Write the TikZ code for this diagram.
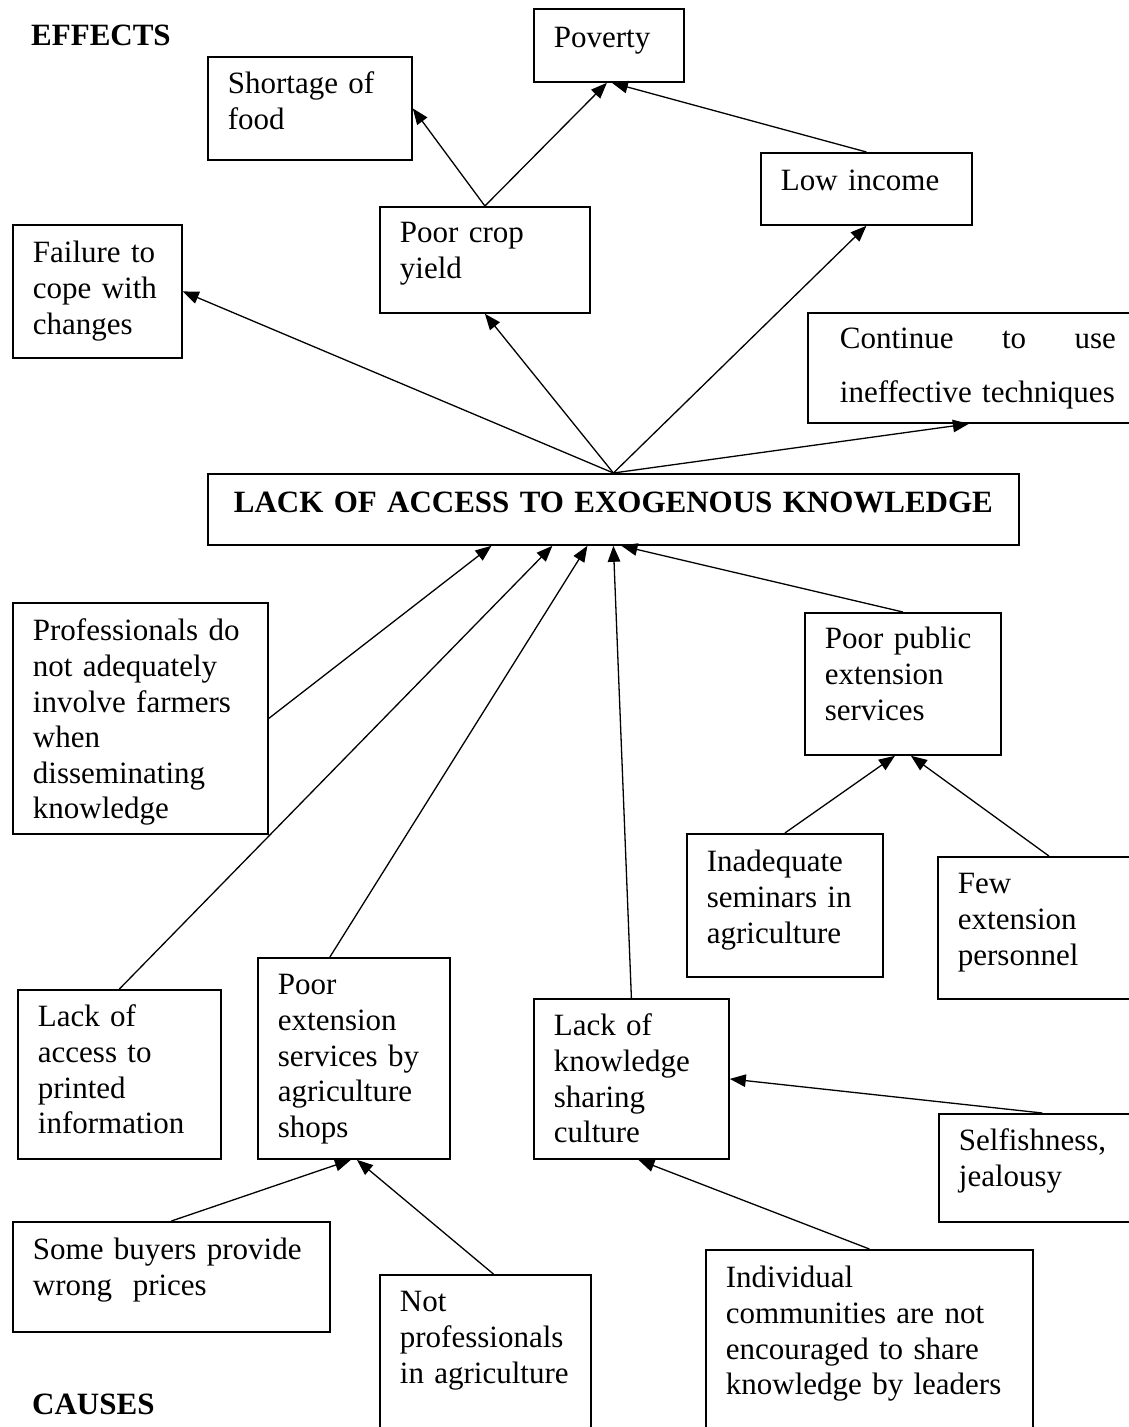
\documentclass[tikz,border=0pt]{standalone}
\usepackage{fontspec}
\setmainfont{Liberation Serif}
\usetikzlibrary{arrows.meta}

\begin{document}
\begin{tikzpicture}[x=1pt,y=-1pt,
    font=\fontsize{31}{35.6}\selectfont,
    box/.style={draw, line width=1.8pt, anchor=north west, align=left,
                inner xsep=20pt, inner ysep=0pt, text height=37pt},
    link/.style={line width=1.3pt, -{Triangle[length=16pt,width=12.5pt]}},
    heading/.style={anchor=base west, inner sep=0pt,
                    font=\fontsize{31}{35.6}\selectfont\bfseries}]
    \useasboundingbox (0,0) rectangle (1128,1427);

    % Headings
    \node[heading] (effects) at (31,45) {EFFECTS};
    \node[heading] (causes) at (32,1414) {CAUSES};

    % Core problem
    \node[box, align=center, text width=771pt, text height=39pt, text depth=32pt,
          font=\fontsize{31}{35.6}\selectfont\bfseries] (core) at (207,473)
          {LACK OF ACCESS TO EXOGENOUS KNOWLEDGE};

    % Effects
    \node[box, text width=164pt, text depth=66pt] (shortage) at (207,56) {Shortage of\\food};
    \node[box, text width=110pt, text height=39pt, text depth=34pt] (poverty) at (533,8) {Poverty};
    \node[box, text width=129pt, text height=38pt, text depth=95pt] (failure) at (12,224) {Failure to\\cope with\\changes};
    \node[box, text width=170pt, text height=36pt, text depth=70pt] (cropyield) at (379,206) {Poor crop\\yield};
    \node[box, text width=171pt, text height=38pt, text depth=34pt] (income) at (760,152) {Low income};
    \node[box, inner xsep=32pt, text width=276pt, text height=36pt, text depth=74pt,
          font=\fontsize{31}{54}\selectfont] (techniques) at (807,312)
          {Continue\hfill to\hfill use\\\mbox{ineffective techniques}};

    % Causes
    \node[box, text width=215pt, text height=38pt, text depth=193pt] (professionals) at (12,602)
          {Professionals do\\not adequately\\involve farmers\\when\\disseminating\\knowledge};
    \node[box, text width=156pt, text height=36pt, text depth=106pt] (publicext) at (804,612) {Poor public\\extension\\services};
    \node[box, text width=156pt, text height=38pt, text depth=105pt] (seminars) at (686,833) {Inadequate\\seminars in\\agriculture};
    \node[box, text width=168pt, text depth=105pt] (personnel) at (937,856) {Few\\extension\\personnel};
    \node[box, text width=163pt, text depth=132pt] (printed) at (17,989) {Lack of\\access to\\printed\\information};
    \node[box, text width=152pt, text depth=164pt] (shops) at (257,957) {Poor\\extension\\services by\\agriculture\\shops};
    \node[box, text width=155pt, text depth=123pt] (sharing) at (533,998) {Lack of\\knowledge\\sharing\\culture};
    \node[box, text width=167pt, text depth=71pt] (selfish) at (938,1113) {Selfishness,\\jealousy};
    \node[box, text width=277pt, text height=38pt, text depth=72pt] (buyers) at (12,1221) {Some buyers provide\\wrong\ \ prices};
    \node[box, text width=171pt, text depth=134pt] (notprof) at (379,1274) {Not\\professionals\\in agriculture};
    \node[box, text width=287pt, text height=38pt, text depth=158pt] (leaders) at (705,1249)
          {Individual\\communities are not\\encouraged to share\\knowledge by leaders};

    % Arrows out of the core problem
    \draw[link] (core.north) -- (failure.east);
    \draw[link] (core.north) -- (cropyield.south);
    \draw[link] (core.north) -- (income.south);
    \draw[link] (core.north) -- ([xshift=-9pt]techniques.south);
    \draw[link] (cropyield.north) -- (shortage.east);
    \draw[link] (cropyield.north) -- ([xshift=-2pt]poverty.south);
    \draw[link] (income.north) -- ([xshift=3pt]poverty.south);

    % Arrows into the core problem
    \draw[link] (professionals.east) -- ([xshift=-122pt]core.south);
    \draw[link] (printed.north) -- ([xshift=-61pt]core.south);
    \draw[link] ([xshift=-24pt]shops.north) -- ([xshift=-26pt]core.south);
    \draw[link] (sharing.north) -- (core.south);
    \draw[link] (publicext.north) -- ([xshift=8pt]core.south);

    % Second level causes
    \draw[link] (seminars.north) -- ([xshift=-8pt]publicext.south);
    \draw[link] ([xshift=7pt]personnel.north) -- ([xshift=8pt]publicext.south);
    \draw[link] (buyers.north) -- ([xshift=-3pt]shops.south);
    \draw[link] ([xshift=8pt]notprof.north) -- ([xshift=3pt]shops.south);
    \draw[link] (leaders.north) -- ([xshift=7pt]sharing.south);
    \draw[link] (selfish.north) -- (sharing.east);
\end{tikzpicture}
\end{document}
